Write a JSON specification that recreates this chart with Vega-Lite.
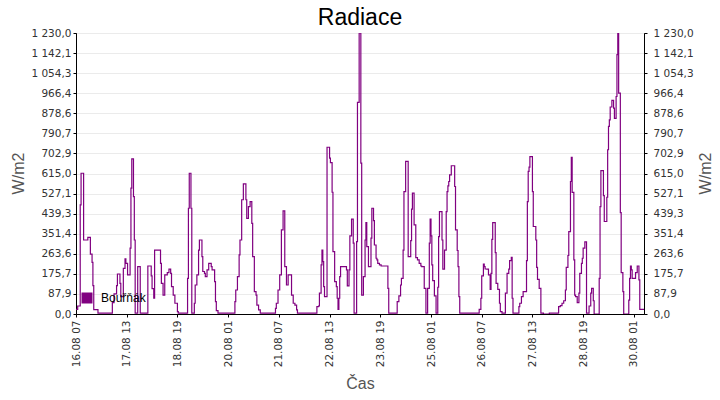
{
  "$schema": "https://vega.github.io/schema/vega-lite/v6.json",
  "width": 568,
  "height": 281,
  "autosize": {"type": "none"},
  "padding": {"left": 76, "top": 33, "right": 76, "bottom": 86},
  "background": "white",
  "title": {
    "text": "Radiace",
    "font": "Liberation Sans",
    "fontSize": 23,
    "fontWeight": "normal",
    "color": "black",
    "anchor": "middle",
    "offset": -2
  },
  "data": {
    "values": [
      {"t": "2019-08-16T07:00", "v": 20}, {"t": "2019-08-16T08:00", "v": 35}, {"t": "2019-08-16T09:30", "v": 478},
      {"t": "2019-08-16T10:00", "v": 616}, {"t": "2019-08-16T11:30", "v": 324}, {"t": "2019-08-16T14:00", "v": 335},
      {"t": "2019-08-16T15:30", "v": 262}, {"t": "2019-08-16T16:30", "v": 226}, {"t": "2019-08-16T17:00", "v": 124},
      {"t": "2019-08-16T17:30", "v": 19}, {"t": "2019-08-16T20:00", "v": 4}, {"t": "2019-08-17T04:30", "v": 50},
      {"t": "2019-08-17T05:30", "v": 88}, {"t": "2019-08-17T07:00", "v": 124}, {"t": "2019-08-17T07:30", "v": 175},
      {"t": "2019-08-17T09:00", "v": 134}, {"t": "2019-08-17T09:30", "v": 76}, {"t": "2019-08-17T11:00", "v": 200},
      {"t": "2019-08-17T12:00", "v": 241}, {"t": "2019-08-17T12:30", "v": 222}, {"t": "2019-08-17T13:30", "v": 171},
      {"t": "2019-08-17T15:00", "v": 288}, {"t": "2019-08-17T15:30", "v": 551}, {"t": "2019-08-17T16:00", "v": 679},
      {"t": "2019-08-17T17:00", "v": 514}, {"t": "2019-08-17T17:30", "v": 324}, {"t": "2019-08-17T18:00", "v": 4},
      {"t": "2019-08-17T19:30", "v": 207}, {"t": "2019-08-17T21:00", "v": 4}, {"t": "2019-08-18T01:30", "v": 210},
      {"t": "2019-08-18T03:30", "v": 167}, {"t": "2019-08-18T04:00", "v": 111}, {"t": "2019-08-18T05:00", "v": 69},
      {"t": "2019-08-18T05:30", "v": 280}, {"t": "2019-08-18T09:00", "v": 222}, {"t": "2019-08-18T09:30", "v": 134},
      {"t": "2019-08-18T10:30", "v": 83}, {"t": "2019-08-18T11:30", "v": 171}, {"t": "2019-08-18T13:00", "v": 181},
      {"t": "2019-08-18T14:00", "v": 196}, {"t": "2019-08-18T15:00", "v": 178}, {"t": "2019-08-18T15:30", "v": 120},
      {"t": "2019-08-18T16:30", "v": 83}, {"t": "2019-08-18T17:30", "v": 47}, {"t": "2019-08-18T19:00", "v": 10},
      {"t": "2019-08-18T19:30", "v": 4}, {"t": "2019-08-19T01:00", "v": 156}, {"t": "2019-08-19T01:30", "v": 463},
      {"t": "2019-08-19T02:00", "v": 616}, {"t": "2019-08-19T03:00", "v": 463}, {"t": "2019-08-19T03:30", "v": 4},
      {"t": "2019-08-19T05:00", "v": 47}, {"t": "2019-08-19T05:30", "v": 127}, {"t": "2019-08-19T06:30", "v": 171},
      {"t": "2019-08-19T07:30", "v": 280}, {"t": "2019-08-19T08:00", "v": 324}, {"t": "2019-08-19T09:30", "v": 251},
      {"t": "2019-08-19T10:00", "v": 186}, {"t": "2019-08-19T11:00", "v": 178}, {"t": "2019-08-19T11:30", "v": 164},
      {"t": "2019-08-19T12:30", "v": 193}, {"t": "2019-08-19T13:30", "v": 222}, {"t": "2019-08-19T15:00", "v": 207},
      {"t": "2019-08-19T15:30", "v": 193}, {"t": "2019-08-19T17:00", "v": 142}, {"t": "2019-08-19T17:30", "v": 54},
      {"t": "2019-08-19T18:00", "v": 15}, {"t": "2019-08-19T19:00", "v": 4}, {"t": "2019-08-20T05:00", "v": 54},
      {"t": "2019-08-20T05:30", "v": 105}, {"t": "2019-08-20T06:30", "v": 164}, {"t": "2019-08-20T07:30", "v": 259},
      {"t": "2019-08-20T08:00", "v": 324}, {"t": "2019-08-20T09:00", "v": 500}, {"t": "2019-08-20T10:00", "v": 570},
      {"t": "2019-08-20T11:30", "v": 500}, {"t": "2019-08-20T12:00", "v": 419}, {"t": "2019-08-20T13:00", "v": 470},
      {"t": "2019-08-20T14:00", "v": 492}, {"t": "2019-08-20T15:00", "v": 397}, {"t": "2019-08-20T15:30", "v": 251},
      {"t": "2019-08-20T16:30", "v": 98}, {"t": "2019-08-20T17:30", "v": 83}, {"t": "2019-08-20T18:00", "v": 39},
      {"t": "2019-08-20T19:00", "v": 18}, {"t": "2019-08-20T20:00", "v": 4}, {"t": "2019-08-21T05:00", "v": 25},
      {"t": "2019-08-21T05:30", "v": 47}, {"t": "2019-08-21T06:30", "v": 105}, {"t": "2019-08-21T07:30", "v": 171},
      {"t": "2019-08-21T08:30", "v": 368}, {"t": "2019-08-21T09:30", "v": 451}, {"t": "2019-08-21T10:30", "v": 207},
      {"t": "2019-08-21T11:30", "v": 127}, {"t": "2019-08-21T12:30", "v": 171}, {"t": "2019-08-21T14:30", "v": 83},
      {"t": "2019-08-21T15:30", "v": 47}, {"t": "2019-08-21T16:30", "v": 39}, {"t": "2019-08-21T17:30", "v": 18},
      {"t": "2019-08-21T18:00", "v": 4}, {"t": "2019-08-22T05:30", "v": 32}, {"t": "2019-08-22T06:30", "v": 35},
      {"t": "2019-08-22T07:00", "v": 91}, {"t": "2019-08-22T08:00", "v": 215}, {"t": "2019-08-22T08:30", "v": 280},
      {"t": "2019-08-22T09:00", "v": 229}, {"t": "2019-08-22T09:30", "v": 120}, {"t": "2019-08-22T10:00", "v": 76},
      {"t": "2019-08-22T11:30", "v": 730}, {"t": "2019-08-22T13:00", "v": 682}, {"t": "2019-08-22T13:30", "v": 663},
      {"t": "2019-08-22T14:30", "v": 533}, {"t": "2019-08-22T15:00", "v": 273}, {"t": "2019-08-22T16:00", "v": 142},
      {"t": "2019-08-22T17:00", "v": 120}, {"t": "2019-08-22T17:30", "v": 69}, {"t": "2019-08-22T18:00", "v": 20},
      {"t": "2019-08-22T18:30", "v": 69}, {"t": "2019-08-22T19:00", "v": 164}, {"t": "2019-08-22T19:30", "v": 207},
      {"t": "2019-08-22T23:00", "v": 193}, {"t": "2019-08-22T23:30", "v": 123}, {"t": "2019-08-23T00:30", "v": 193},
      {"t": "2019-08-23T01:00", "v": 342}, {"t": "2019-08-23T02:00", "v": 415}, {"t": "2019-08-23T03:00", "v": 310},
      {"t": "2019-08-23T03:30", "v": 4}, {"t": "2019-08-23T05:00", "v": 317}, {"t": "2019-08-23T05:30", "v": 926},
      {"t": "2019-08-23T06:30", "v": 1230}, {"t": "2019-08-23T07:30", "v": 660}, {"t": "2019-08-23T08:00", "v": 83},
      {"t": "2019-08-23T09:00", "v": 164}, {"t": "2019-08-23T10:00", "v": 324}, {"t": "2019-08-23T10:30", "v": 400},
      {"t": "2019-08-23T11:00", "v": 295}, {"t": "2019-08-23T12:00", "v": 207}, {"t": "2019-08-23T13:30", "v": 332},
      {"t": "2019-08-23T14:00", "v": 463}, {"t": "2019-08-23T15:00", "v": 409}, {"t": "2019-08-23T15:30", "v": 302},
      {"t": "2019-08-23T16:30", "v": 244}, {"t": "2019-08-23T17:00", "v": 237}, {"t": "2019-08-23T17:30", "v": 222},
      {"t": "2019-08-23T18:30", "v": 215}, {"t": "2019-08-23T19:30", "v": 210}, {"t": "2019-08-23T23:30", "v": 112},
      {"t": "2019-08-24T00:00", "v": 4}, {"t": "2019-08-24T05:00", "v": 54}, {"t": "2019-08-24T06:00", "v": 79},
      {"t": "2019-08-24T07:00", "v": 127}, {"t": "2019-08-24T07:30", "v": 156}, {"t": "2019-08-24T08:30", "v": 280},
      {"t": "2019-08-24T09:00", "v": 536}, {"t": "2019-08-24T10:00", "v": 668}, {"t": "2019-08-24T11:30", "v": 251},
      {"t": "2019-08-24T13:00", "v": 321}, {"t": "2019-08-24T13:30", "v": 459}, {"t": "2019-08-24T14:00", "v": 529},
      {"t": "2019-08-24T15:00", "v": 390}, {"t": "2019-08-24T16:00", "v": 247}, {"t": "2019-08-24T17:00", "v": 237},
      {"t": "2019-08-24T18:00", "v": 222}, {"t": "2019-08-24T19:00", "v": 210}, {"t": "2019-08-24T19:30", "v": 207},
      {"t": "2019-08-24T21:00", "v": 112}, {"t": "2019-08-24T22:00", "v": 4}, {"t": "2019-08-24T23:00", "v": 112},
      {"t": "2019-08-25T00:00", "v": 310}, {"t": "2019-08-25T00:30", "v": 415}, {"t": "2019-08-25T01:00", "v": 342},
      {"t": "2019-08-25T01:30", "v": 215}, {"t": "2019-08-25T02:00", "v": 146}, {"t": "2019-08-25T03:00", "v": 79},
      {"t": "2019-08-25T04:00", "v": 4}, {"t": "2019-08-25T05:00", "v": 117}, {"t": "2019-08-25T05:30", "v": 339},
      {"t": "2019-08-25T06:00", "v": 448}, {"t": "2019-08-25T07:30", "v": 324}, {"t": "2019-08-25T08:00", "v": 196},
      {"t": "2019-08-25T09:00", "v": 280}, {"t": "2019-08-25T10:00", "v": 448}, {"t": "2019-08-25T10:30", "v": 536},
      {"t": "2019-08-25T11:00", "v": 561}, {"t": "2019-08-25T11:30", "v": 580}, {"t": "2019-08-25T12:00", "v": 609},
      {"t": "2019-08-25T13:00", "v": 649}, {"t": "2019-08-25T15:00", "v": 558}, {"t": "2019-08-25T15:30", "v": 368},
      {"t": "2019-08-25T16:30", "v": 278}, {"t": "2019-08-25T17:00", "v": 207}, {"t": "2019-08-25T17:30", "v": 76},
      {"t": "2019-08-25T18:00", "v": 4}, {"t": "2019-08-26T05:30", "v": 20}, {"t": "2019-08-26T06:30", "v": 69},
      {"t": "2019-08-26T07:00", "v": 167}, {"t": "2019-08-26T08:00", "v": 218}, {"t": "2019-08-26T08:30", "v": 207},
      {"t": "2019-08-26T09:00", "v": 197}, {"t": "2019-08-26T10:00", "v": 196}, {"t": "2019-08-26T11:00", "v": 171},
      {"t": "2019-08-26T12:00", "v": 108}, {"t": "2019-08-26T12:30", "v": 178}, {"t": "2019-08-26T13:00", "v": 327},
      {"t": "2019-08-26T13:30", "v": 400}, {"t": "2019-08-26T15:00", "v": 269}, {"t": "2019-08-26T15:30", "v": 134},
      {"t": "2019-08-26T16:30", "v": 108}, {"t": "2019-08-26T17:30", "v": 47}, {"t": "2019-08-26T18:00", "v": 10},
      {"t": "2019-08-26T19:00", "v": 4}, {"t": "2019-08-26T21:00", "v": 91}, {"t": "2019-08-26T22:00", "v": 178},
      {"t": "2019-08-26T23:00", "v": 196}, {"t": "2019-08-26T23:30", "v": 234}, {"t": "2019-08-27T00:30", "v": 248},
      {"t": "2019-08-27T01:00", "v": 69}, {"t": "2019-08-27T01:30", "v": 4}, {"t": "2019-08-27T05:00", "v": 32},
      {"t": "2019-08-27T05:30", "v": 47}, {"t": "2019-08-27T06:30", "v": 76}, {"t": "2019-08-27T07:30", "v": 98},
      {"t": "2019-08-27T09:30", "v": 234}, {"t": "2019-08-27T10:00", "v": 492}, {"t": "2019-08-27T10:30", "v": 624},
      {"t": "2019-08-27T11:00", "v": 643}, {"t": "2019-08-27T11:30", "v": 689}, {"t": "2019-08-27T13:00", "v": 536},
      {"t": "2019-08-27T13:30", "v": 383}, {"t": "2019-08-27T15:00", "v": 324}, {"t": "2019-08-27T15:30", "v": 204},
      {"t": "2019-08-27T16:00", "v": 152}, {"t": "2019-08-27T17:00", "v": 112}, {"t": "2019-08-27T18:00", "v": 4},
      {"t": "2019-08-27T19:30", "v": 0}, {"t": "2019-08-27T23:00", "v": 4}, {"t": "2019-08-28T04:30", "v": 32},
      {"t": "2019-08-28T05:30", "v": 37}, {"t": "2019-08-28T06:30", "v": 47}, {"t": "2019-08-28T07:30", "v": 58},
      {"t": "2019-08-28T08:30", "v": 105}, {"t": "2019-08-28T09:00", "v": 204}, {"t": "2019-08-28T10:00", "v": 256},
      {"t": "2019-08-28T10:30", "v": 361}, {"t": "2019-08-28T11:30", "v": 580}, {"t": "2019-08-28T12:00", "v": 686},
      {"t": "2019-08-28T12:30", "v": 532}, {"t": "2019-08-28T13:30", "v": 237}, {"t": "2019-08-28T14:00", "v": 83},
      {"t": "2019-08-28T14:30", "v": 76}, {"t": "2019-08-28T15:30", "v": 50}, {"t": "2019-08-28T16:30", "v": 91},
      {"t": "2019-08-28T17:00", "v": 178}, {"t": "2019-08-28T18:00", "v": 222}, {"t": "2019-08-28T18:30", "v": 244},
      {"t": "2019-08-28T19:00", "v": 288}, {"t": "2019-08-28T20:00", "v": 316}, {"t": "2019-08-28T21:00", "v": 4},
      {"t": "2019-08-28T22:30", "v": 35}, {"t": "2019-08-28T23:30", "v": 91}, {"t": "2019-08-29T00:00", "v": 112},
      {"t": "2019-08-29T01:00", "v": 58}, {"t": "2019-08-29T01:30", "v": 0}, {"t": "2019-08-29T04:30", "v": 156},
      {"t": "2019-08-29T05:00", "v": 470}, {"t": "2019-08-29T05:30", "v": 628}, {"t": "2019-08-29T07:00", "v": 518},
      {"t": "2019-08-29T07:30", "v": 405}, {"t": "2019-08-29T09:00", "v": 511}, {"t": "2019-08-29T09:30", "v": 719},
      {"t": "2019-08-29T10:00", "v": 821}, {"t": "2019-08-29T10:30", "v": 850}, {"t": "2019-08-29T11:00", "v": 906},
      {"t": "2019-08-29T12:00", "v": 935}, {"t": "2019-08-29T13:00", "v": 901}, {"t": "2019-08-29T13:30", "v": 856},
      {"t": "2019-08-29T14:30", "v": 952}, {"t": "2019-08-29T15:00", "v": 1135}, {"t": "2019-08-29T15:30", "v": 1230},
      {"t": "2019-08-29T16:00", "v": 967}, {"t": "2019-08-29T17:00", "v": 444}, {"t": "2019-08-29T17:30", "v": 181},
      {"t": "2019-08-29T18:30", "v": 98}, {"t": "2019-08-29T19:00", "v": 0}, {"t": "2019-08-29T22:00", "v": 61},
      {"t": "2019-08-29T22:30", "v": 156}, {"t": "2019-08-29T23:00", "v": 210}, {"t": "2019-08-29T23:30", "v": 193},
      {"t": "2019-08-30T00:00", "v": 156}, {"t": "2019-08-30T02:00", "v": 181}, {"t": "2019-08-30T03:00", "v": 210},
      {"t": "2019-08-30T04:00", "v": 149}, {"t": "2019-08-30T04:30", "v": 20}, {"t": "2019-08-30T07:00", "v": 20}
    ]
  },
  "encoding": {
    "x": {
      "field": "t",
      "type": "temporal",
      "scale": {
        "domain": [
          {"year": 2019, "month": 8, "date": 16, "hours": 7},
          {"year": 2019, "month": 8, "date": 30, "hours": 7}
        ]
      },
      "axis": {
        "title": "Čas",
        "format": "%d.%m %H",
        "labelAngle": -90,
        "grid": false,
        "labelOverlap": false,
        "labelFlush": false,
        "tickSize": 3,
        "labelPadding": 3,
        "titleY": 69,
        "titleBaseline": "middle",
        "values": [
          {"year": 2019, "month": 8, "date": 16, "hours": 7},
          {"year": 2019, "month": 8, "date": 17, "hours": 13},
          {"year": 2019, "month": 8, "date": 18, "hours": 19},
          {"year": 2019, "month": 8, "date": 20, "hours": 1},
          {"year": 2019, "month": 8, "date": 21, "hours": 7},
          {"year": 2019, "month": 8, "date": 22, "hours": 13},
          {"year": 2019, "month": 8, "date": 23, "hours": 19},
          {"year": 2019, "month": 8, "date": 25, "hours": 1},
          {"year": 2019, "month": 8, "date": 26, "hours": 7},
          {"year": 2019, "month": 8, "date": 27, "hours": 13},
          {"year": 2019, "month": 8, "date": 28, "hours": 19},
          {"year": 2019, "month": 8, "date": 30, "hours": 1}
        ]
      }
    }
  },
  "layer": [
    {
      "mark": {"type": "line", "interpolate": "step-after", "strokeWidth": 1.2, "clip": true},
      "encoding": {
        "y": {
          "field": "v",
          "type": "quantitative",
          "scale": {"domain": [0, 1230], "nice": false},
          "axis": {
            "title": "W/m2",
            "orient": "left",
            "values": [0, 87.857, 175.714, 263.571, 351.429, 439.286, 527.143, 615, 702.857, 790.714, 878.571, 966.429, 1054.286, 1142.143, 1230],
            "labelExpr": "replace(replace(format(datum.value, ',.1f'), ',', ' '), '.', ',')",
            "tickSize": 3,
            "labelPadding": 2,
            "titleAngle": -90,
            "titleX": -58,
            "titleY": 140,
            "titleAlign": "center",
            "titleBaseline": "middle"
          }
        },
        "color": {
          "datum": "Bouřňák",
          "scale": {"range": ["#800080"]},
          "legend": {
            "title": null,
            "orient": "none",
            "legendX": 5,
            "legendY": 259,
            "symbolType": "square",
            "symbolSize": 121,
            "labelFont": "Liberation Sans",
            "labelFontSize": 12,
            "labelColor": "black",
            "labelOffset": 8,
            "encode": {
              "symbols": {"update": {"fill": {"value": "#800080"}, "stroke": {"value": "#800080"}, "strokeWidth": {"value": 0}}}
            }
          }
        }
      }
    },
    {
      "mark": {"type": "line", "interpolate": "step-after", "strokeOpacity": 0},
      "encoding": {
        "y": {
          "field": "v",
          "type": "quantitative",
          "axis": {
            "title": "W/m2",
            "orient": "right",
            "grid": false,
            "values": [0, 87.857, 175.714, 263.571, 351.429, 439.286, 527.143, 615, 702.857, 790.714, 878.571, 966.429, 1054.286, 1142.143, 1230],
            "labelExpr": "replace(replace(format(datum.value, ',.1f'), ',', ' '), '.', ',')",
            "tickSize": 3,
            "labelPadding": 6,
            "titleAngle": -90,
            "titleX": 61,
            "titleY": 140,
            "titleAlign": "center",
            "titleBaseline": "middle"
          }
        }
      }
    }
  ],
  "resolve": {"axis": {"y": "independent"}},
  "config": {
    "view": {"stroke": "black", "strokeWidth": 1},
    "axis": {
      "labelFont": "DejaVu Sans",
      "labelFontSize": 10.5,
      "labelColor": "#333333",
      "titleFont": "Liberation Sans",
      "titleFontSize": 16,
      "titleFontWeight": "normal",
      "titleColor": "#555555",
      "domainColor": "black",
      "tickColor": "black",
      "gridColor": "#ebebeb"
    }
  }
}
